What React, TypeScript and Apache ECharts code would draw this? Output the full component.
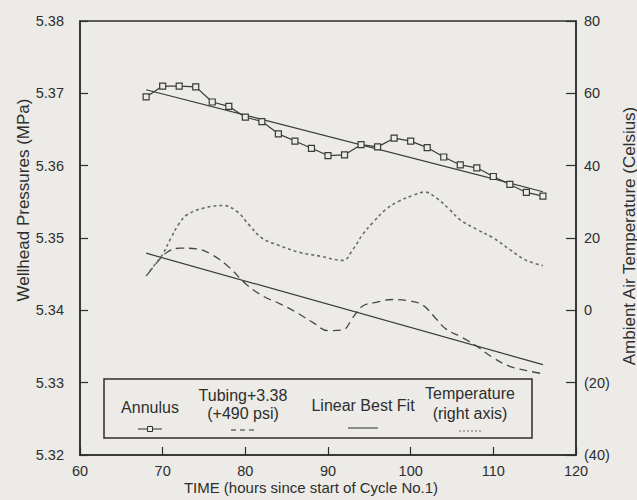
import React, { useEffect, useRef } from "react";
import * as echarts from "echarts";

// Annulus pressure (MPa), measured every 2 hours
const annulusHours = [68, 70, 72, 74, 76, 78, 80, 82, 84, 86, 88, 90, 92, 94, 96, 98, 100, 102, 104, 106, 108, 110, 112, 114, 116];
const annulus = [5.3695, 5.371, 5.371, 5.3709, 5.3688, 5.3682, 5.3667, 5.3661, 5.3644, 5.3634, 5.3624, 5.3614, 5.3615, 5.3629, 5.3626, 5.3638, 5.3634, 5.3625, 5.3612, 5.3601, 5.3597, 5.3585, 5.3574, 5.3563, 5.3558];

// Tubing pressure + 3.38 MPa
const tubingHours = [68.2, 69.3, 70.5, 72.1, 74.1, 76.1, 78.1, 80.1, 82.1, 84.2, 86.2, 88.2, 90, 91.8, 93, 94.2, 95.8, 97.8, 99.9, 101.5, 103.1, 104.3, 106.3, 107.9, 109.9, 111.9, 114.3, 116.2];
const tubing = [5.345, 5.3466, 5.348, 5.3486, 5.3485, 5.3476, 5.3459, 5.3436, 5.342, 5.3409, 5.3397, 5.3383, 5.3372, 5.3373, 5.339, 5.3406, 5.3411, 5.3415, 5.3413, 5.3407, 5.3388, 5.3374, 5.3362, 5.3351, 5.3335, 5.3323, 5.3316, 5.3312];

// Ambient air temperature (Celsius, right axis)
const tempHours = [68, 69, 70, 71, 72, 73, 75, 77.3, 79, 80.5, 82, 84, 86.6, 89, 91.8, 93, 94.2, 95.4, 97, 98.6, 100.3, 101.7, 103.1, 104.7, 106, 108, 110, 112, 114, 116];
const temperature = [9.5, 12.5, 15.5, 20, 24, 26.5, 28.3, 29, 27.3, 23.5, 20, 18, 16, 15, 13.8, 16.8, 21, 24.2, 27.9, 30.2, 31.8, 32.7, 31.1, 27.9, 25, 22.4, 20, 16.8, 13.8, 12.4];

// Linear best fits
const fitHours = [68, 116];
const annulusFit = [5.3705, 5.3564];
const tubingFit = [5.3479, 5.3325];

// Axes
const xMin = 60, xMax = 120, xStep = 10;
const pMin = 5.32, pMax = 5.38, pStep = 0.01;
const tMin = -40, tMax = 80, tStep = 20;

const zip = (xs: number[], ys: number[]) => xs.map((x, i) => [x, ys[i]]);

const INK = "#2e2e2e";
const BG = "#ecebe7";
const FONT = "Liberation Sans, Arial, sans-serif";

export default function App() {
  const ref = useRef<HTMLDivElement>(null);
  useEffect(() => {
    if (!ref.current) return;
    const chart = echarts.init(ref.current, null, { renderer: "svg" });
    const lineStyleBase = { color: "#3a3a3a", width: 1.2 };
    const legendText = (x: number, y: number, text: string) => ({
      type: "text", x, y, z: 11,
      style: { text, fill: INK, font: `16px ${FONT}`, align: "center", verticalAlign: "middle" },
    });
    chart.setOption({
      animation: false,
      backgroundColor: BG,
      textStyle: { fontFamily: FONT },
      grid: { left: 80, right: 61, top: 21, bottom: 45, show: true, borderColor: INK, borderWidth: 1.5, backgroundColor: "transparent" },
      xAxis: {
        type: "value", min: xMin, max: xMax, interval: xStep,
        axisLine: { onZero: false, lineStyle: { color: INK, width: 1.5 } },
        axisTick: { inside: true, length: 8, lineStyle: { color: INK, width: 1.2 } },
        axisLabel: { color: INK, fontSize: 14.5, margin: 8, fontFamily: FONT },
        splitLine: { show: false },
      },
      yAxis: [
        {
          type: "value", min: pMin, max: pMax, interval: pStep,
          axisLine: { show: true, lineStyle: { color: INK, width: 1.5 } },
          axisTick: { show: true, inside: true, length: 8, lineStyle: { color: INK, width: 1.2 } },
          axisLabel: { color: INK, fontSize: 14.5, margin: 16, fontFamily: FONT, formatter: (v: number) => v.toFixed(2) },
          splitLine: { show: false },
        },
        {
          type: "value", min: tMin, max: tMax, interval: tStep, position: "right",
          axisLine: { show: true, lineStyle: { color: INK, width: 1.5 } },
          axisTick: { show: true, inside: true, length: 10, lineStyle: { color: INK, width: 1.2 } },
          axisLabel: { color: INK, fontSize: 14.5, margin: 8, fontFamily: FONT, formatter: (v: number) => (v < 0 ? `(${-v})` : `${v}`) },
          splitLine: { show: false },
        },
      ],
      series: [
        {
          name: "Annulus", type: "line", data: zip(annulusHours, annulus), yAxisIndex: 0,
          symbol: "rect", symbolSize: 6, showAllSymbol: true,
          itemStyle: { color: BG, borderColor: "#3a3a3a", borderWidth: 1.2 },
          lineStyle: lineStyleBase, z: 5,
        },
        {
          name: "Tubing", type: "line", data: zip(tubingHours, tubing), yAxisIndex: 0,
          symbol: "none", smooth: 0.4,
          lineStyle: { color: "#484848", width: 1.3, type: [8, 5] },
        },
        {
          name: "Annulus fit", type: "line", data: zip(fitHours, annulusFit), yAxisIndex: 0,
          symbol: "none", lineStyle: lineStyleBase,
        },
        {
          name: "Tubing fit", type: "line", data: zip(fitHours, tubingFit), yAxisIndex: 0,
          symbol: "none", lineStyle: lineStyleBase,
        },
        {
          name: "Temperature", type: "line", data: zip(tempHours, temperature), yAxisIndex: 1,
          symbol: "none", smooth: 0.4,
          lineStyle: { color: "#6a6a6a", width: 1.6, type: [3, 3] },
        },
      ],
      graphic: [
        // axis titles
        { type: "text", x: 311, y: 487, style: { text: "TIME (hours since start of Cycle No.1)", fill: INK, font: `15px ${FONT}`, align: "center", verticalAlign: "middle" } },
        { type: "text", x: 23, y: 200, rotation: Math.PI / 2, style: { text: "Wellhead Pressures (MPa)", fill: INK, font: `17px ${FONT}`, align: "center", verticalAlign: "middle" } },
        { type: "text", x: 629, y: 236, rotation: Math.PI / 2, style: { text: "Ambient Air Temperature (Celsius)", fill: INK, font: `17px ${FONT}`, align: "center", verticalAlign: "middle" } },
        // legend box
        { type: "rect", shape: { x: 104, y: 379, width: 428, height: 59 }, style: { fill: BG, stroke: INK, lineWidth: 1.5 }, z: 10 },
        legendText(150, 407, "Annulus"),
        { type: "line", z: 11, shape: { x1: 138, y1: 429, x2: 162, y2: 429 }, style: { stroke: INK, lineWidth: 1 } },
        { type: "rect", z: 12, shape: { x: 147.5, y: 426.5, width: 5, height: 5 }, style: { fill: BG, stroke: INK, lineWidth: 1 } },
        legendText(243, 395, "Tubing+3.38"),
        legendText(243, 413, "(+490 psi)"),
        { type: "line", z: 11, shape: { x1: 231, y1: 430, x2: 257, y2: 430 }, style: { stroke: INK, lineWidth: 1, lineDash: [5, 4] } },
        legendText(363, 405, "Linear Best Fit"),
        { type: "line", z: 11, shape: { x1: 348, y1: 428, x2: 378, y2: 428 }, style: { stroke: INK, lineWidth: 1 } },
        legendText(470, 393, "Temperature"),
        legendText(470, 413, "(right axis)"),
        { type: "line", z: 11, shape: { x1: 459, y1: 431, x2: 483, y2: 431 }, style: { stroke: "#6a6a6a", lineWidth: 1, lineDash: [2, 2] } },
      ],
    });
    return () => chart.dispose();
  }, []);
  return <div ref={ref} style={{ position: "fixed", left: 0, top: 0, width: 637, height: 500 }} />;
}
